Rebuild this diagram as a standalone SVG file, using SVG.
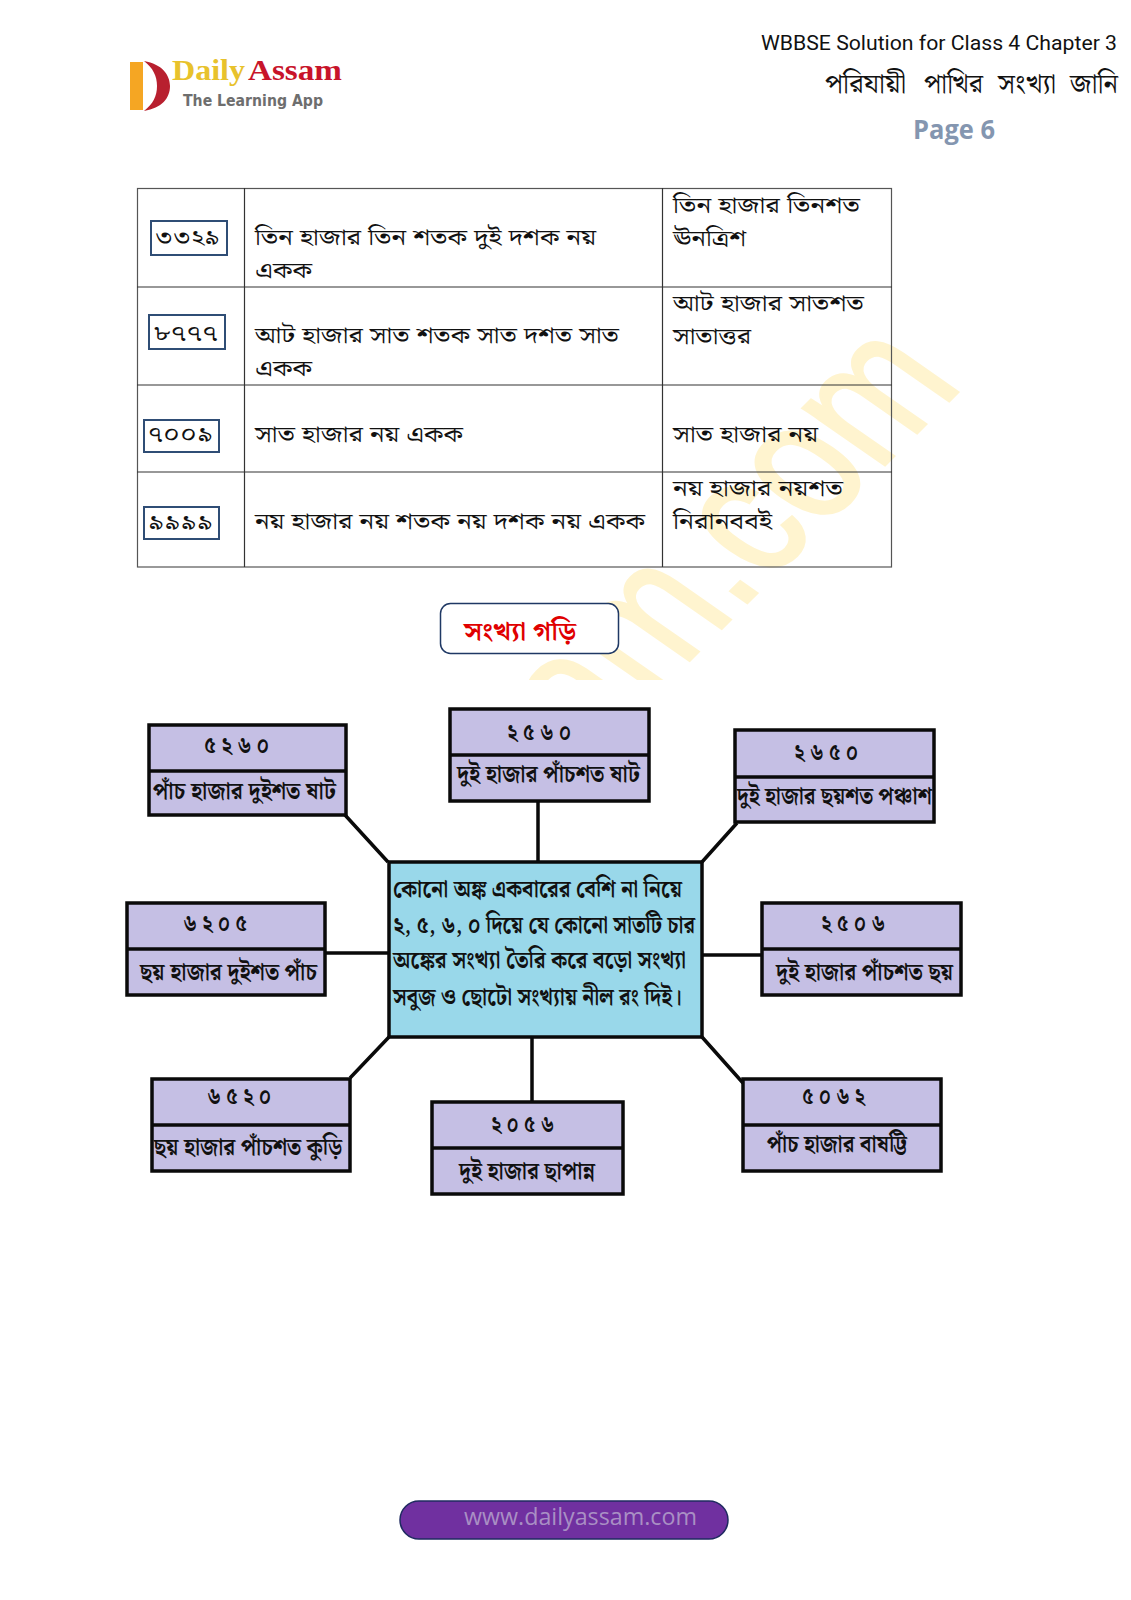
<svg xmlns="http://www.w3.org/2000/svg" width="1131" height="1600" viewBox="0 0 1131 1600">
<defs>
<style>
text{font-family:"Noto Sans","Liberation Sans",sans-serif;fill:#111}
.t{font-size:22px;font-family:"Noto Serif Bengali","Noto Sans Bengali","Liberation Serif","Noto Sans",serif}
.n{font-size:24px;font-weight:700;font-family:"Noto Serif Bengali","Noto Sans Bengali","Liberation Serif","Noto Sans",serif}
.h{fill:#c5bfe4;stroke:#0a0a0a;stroke-width:3.5}
.cell{fill:none;stroke:#555;stroke-width:1.2}
.row{stroke:#333;stroke-width:1.2}
.nb{fill:#fff;stroke:#2f4d75;stroke-width:2}
.c{stroke:#0a0a0a;stroke-width:3.5;fill:none}
</style>
<clipPath id="wm"><rect x="500" y="300" width="520" height="380"/></clipPath>
</defs>
<rect width="1131" height="1600" fill="#fff"/>
<g id="watermark" clip-path="url(#wm)"><text transform="matrix(1.05 -1.05 1.55 1.08 965 385)" text-anchor="end" style="font-family:'Liberation Sans',sans-serif;font-size:100px;fill:#fff4cf;stroke:#fff4cf;stroke-width:1.5">am.com</text></g>
<g id="logo">
<rect x="130" y="62" width="13" height="48" fill="#f5a623"/>
<path d="M144 61C162 64 170 75 170 86C170 98 162 108 144 111C153 104 157 96 157 86C157 76 153 68 144 61Z" fill="#b8202f"/>
<text x="172" y="80" textLength="73" lengthAdjust="spacingAndGlyphs" style="font-family:'Liberation Serif',serif;font-weight:700;font-size:29px;fill:#e8c22c">Daily</text>
<text x="248" y="80" textLength="94" lengthAdjust="spacingAndGlyphs" style="font-family:'Liberation Serif',serif;font-weight:700;font-size:29px;fill:#c8142a">Assam</text>
<text x="183" y="106" textLength="140" lengthAdjust="spacingAndGlyphs" style="font-family:'DejaVu Sans',sans-serif;font-weight:700;font-size:15px;fill:#6e6e6e">The Learning App</text>
</g>
<g id="header">
<text x="761" y="50" textLength="356" lengthAdjust="spacingAndGlyphs" style="font-family:Roboto,sans-serif;font-size:20px">WBBSE Solution for Class 4 Chapter 3</text>
<text class="t" x="825" y="93" textLength="81" lengthAdjust="spacingAndGlyphs" style="font-size:27px">পরিযায়ী</text>
<text class="t" x="924" y="93" textLength="59" lengthAdjust="spacingAndGlyphs" style="font-size:27px">পাখির</text>
<text class="t" x="998" y="93" textLength="58" lengthAdjust="spacingAndGlyphs" style="font-size:27px">সংখ্যা</text>
<text class="t" x="1070" y="93" textLength="48" lengthAdjust="spacingAndGlyphs" style="font-size:27px">জানি</text>
<text x="913" y="139" textLength="82" lengthAdjust="spacingAndGlyphs" style="font-family:'Open Sans',sans-serif;font-weight:700;font-size:26px;fill:#8496b0">Page 6</text>
</g>
<g id="table">
<rect class="cell" x="137.500" y="188.500" width="754" height="378.500"/>
<path class="row" d="M137 287H892M137 385H892M137 472H892M244.500 188V567M662.500 188V567" fill="none"/>
<rect class="nb" x="151" y="221" width="76" height="34"/>
<text class="t" x="155" y="245" textLength="65" lengthAdjust="spacingAndGlyphs">৩৩২৯</text>
<text class="t" x="255" y="245" textLength="341" lengthAdjust="spacingAndGlyphs">তিন হাজার তিন শতক দুই দশক নয়</text>
<text class="t" x="255" y="278" textLength="57" lengthAdjust="spacingAndGlyphs">একক</text>
<text class="t" x="673" y="213" textLength="187" lengthAdjust="spacingAndGlyphs">তিন হাজার তিনশত</text>
<text class="t" x="673" y="246" textLength="73" lengthAdjust="spacingAndGlyphs">ঊনত্রিশ</text>
<rect class="nb" x="149" y="315" width="76" height="34"/>
<text class="t" x="153" y="341" textLength="65" lengthAdjust="spacingAndGlyphs">৮৭৭৭</text>
<text class="t" x="255" y="343" textLength="364" lengthAdjust="spacingAndGlyphs">আট হাজার সাত শতক সাত দশত সাত</text>
<text class="t" x="255" y="376" textLength="57" lengthAdjust="spacingAndGlyphs">একক</text>
<text class="t" x="673" y="311" textLength="191" lengthAdjust="spacingAndGlyphs">আট হাজার সাতশত</text>
<text class="t" x="673" y="344" textLength="78" lengthAdjust="spacingAndGlyphs">সাতাত্তর</text>
<rect class="nb" x="144" y="420" width="75" height="32"/>
<text class="t" x="148" y="442" textLength="65" lengthAdjust="spacingAndGlyphs">৭০০৯</text>
<text class="t" x="255" y="442" textLength="208" lengthAdjust="spacingAndGlyphs">সাত হাজার নয় একক</text>
<text class="t" x="673" y="442" textLength="145" lengthAdjust="spacingAndGlyphs">সাত হাজার নয়</text>
<rect class="nb" x="144" y="507" width="75" height="32"/>
<text class="t" x="148" y="530" textLength="65" lengthAdjust="spacingAndGlyphs">৯৯৯৯</text>
<text class="t" x="255" y="529" textLength="390" lengthAdjust="spacingAndGlyphs">নয় হাজার নয় শতক নয় দশক নয় একক</text>
<text class="t" x="673" y="496" textLength="170" lengthAdjust="spacingAndGlyphs">নয় হাজার নয়শত</text>
<text class="t" x="673" y="529" textLength="99" lengthAdjust="spacingAndGlyphs">নিরানববই</text>
</g>
<g id="title">
<rect x="440.500" y="603.500" width="178" height="50" rx="10" fill="#fff" stroke="#1f3864" stroke-width="1.500"/>
<text class="n" x="464" y="640" textLength="112" lengthAdjust="spacingAndGlyphs" style="fill:#e00000;font-size:26px">সংখ্যা গড়ি</text>
</g>
<g id="connectors">
<path class="c" d="M345 815L388 862M538 802V862M737 823L702 862M325 953H388M702 955H762M350 1078L389 1037M532 1037V1102M743 1083L702 1037"/>
</g>
<g id="center">
<rect x="389" y="862" width="313" height="175" fill="#99d8ea" stroke="#0a0a0a" stroke-width="3.500"/>
<text class="n" x="393" y="897" textLength="289" lengthAdjust="spacingAndGlyphs">কোনো অঙ্ক একবারের বেশি না নিয়ে</text>
<text class="n" x="393" y="933" textLength="302" lengthAdjust="spacingAndGlyphs">২, ৫, ৬, ০ দিয়ে যে কোনো সাতটি চার</text>
<text class="n" x="393" y="968" textLength="293" lengthAdjust="spacingAndGlyphs">অঙ্কের সংখ্যা তৈরি করে বড়ো সংখ্যা</text>
<text class="n" x="393" y="1005" textLength="289" lengthAdjust="spacingAndGlyphs">সবুজ ও ছোটো সংখ্যায় নীল রং দিই।</text>
</g>
<g id="n5260"><rect class="h" x="149" y="725" width="197" height="90"/><path class="c" d="M149 771H346"/><text class="n" x="204" y="753" textLength="65" lengthAdjust="spacingAndGlyphs">৫ ২ ৬ ০</text><text class="n" x="153" y="799" textLength="183" lengthAdjust="spacingAndGlyphs">পাঁচ হাজার দুইশত ষাট</text></g>
<g id="n2560"><rect class="h" x="450" y="709" width="199" height="92"/><path class="c" d="M450 755H649"/><text class="n" x="507" y="740" textLength="64" lengthAdjust="spacingAndGlyphs">২ ৫ ৬ ০</text><text class="n" x="457" y="782" textLength="183" lengthAdjust="spacingAndGlyphs">দুই হাজার পাঁচশত ষাট</text></g>
<g id="n2650"><rect class="h" x="735" y="730" width="199" height="92"/><path class="c" d="M735 777H934"/><text class="n" x="794" y="760" textLength="64" lengthAdjust="spacingAndGlyphs">২ ৬ ৫ ০</text><text class="n" x="737" y="804" textLength="195" lengthAdjust="spacingAndGlyphs">দুই হাজার ছয়শত পঞ্চাশ</text></g>
<g id="n6205"><rect class="h" x="127" y="903" width="198" height="92"/><path class="c" d="M127 949H325"/><text class="n" x="183" y="931" textLength="64" lengthAdjust="spacingAndGlyphs">৬ ২ ০ ৫</text><text class="n" x="140" y="980" textLength="177" lengthAdjust="spacingAndGlyphs">ছয় হাজার দুইশত পাঁচ</text></g>
<g id="n2506"><rect class="h" x="762" y="903" width="199" height="92"/><path class="c" d="M762 949H961"/><text class="n" x="821" y="931" textLength="64" lengthAdjust="spacingAndGlyphs">২ ৫ ০ ৬</text><text class="n" x="776" y="980" textLength="177" lengthAdjust="spacingAndGlyphs">দুই হাজার পাঁচশত ছয়</text></g>
<g id="n6520"><rect class="h" x="152" y="1079" width="198" height="92"/><path class="c" d="M152 1125H350"/><text class="n" x="207" y="1104" textLength="64" lengthAdjust="spacingAndGlyphs">৬ ৫ ২ ০</text><text class="n" x="154" y="1155" textLength="188" lengthAdjust="spacingAndGlyphs">ছয় হাজার পাঁচশত কুড়ি</text></g>
<g id="n2056"><rect class="h" x="432" y="1102" width="191" height="92"/><path class="c" d="M432 1148H623"/><text class="n" x="491" y="1132" textLength="63" lengthAdjust="spacingAndGlyphs">২ ০ ৫ ৬</text><text class="n" x="459" y="1179" textLength="136" lengthAdjust="spacingAndGlyphs">দুই হাজার ছাপান্ন</text></g>
<g id="n5062"><rect class="h" x="743" y="1079" width="198" height="92"/><path class="c" d="M743 1125H941"/><text class="n" x="802" y="1104" textLength="63" lengthAdjust="spacingAndGlyphs">৫ ০ ৬ ২</text><text class="n" x="767" y="1152" textLength="140" lengthAdjust="spacingAndGlyphs">পাঁচ হাজার বাষট্টি</text></g>
<g id="footer">
<rect x="400" y="1501" width="328" height="38" rx="19" fill="#7030a0" stroke="#1f2a60" stroke-width="1.500"/>
<text x="464" y="1525" textLength="233" lengthAdjust="spacingAndGlyphs" style="font-family:'Open Sans',sans-serif;font-size:24px;fill:#a98fc4">www.dailyassam.com</text>
</g>
</svg>
